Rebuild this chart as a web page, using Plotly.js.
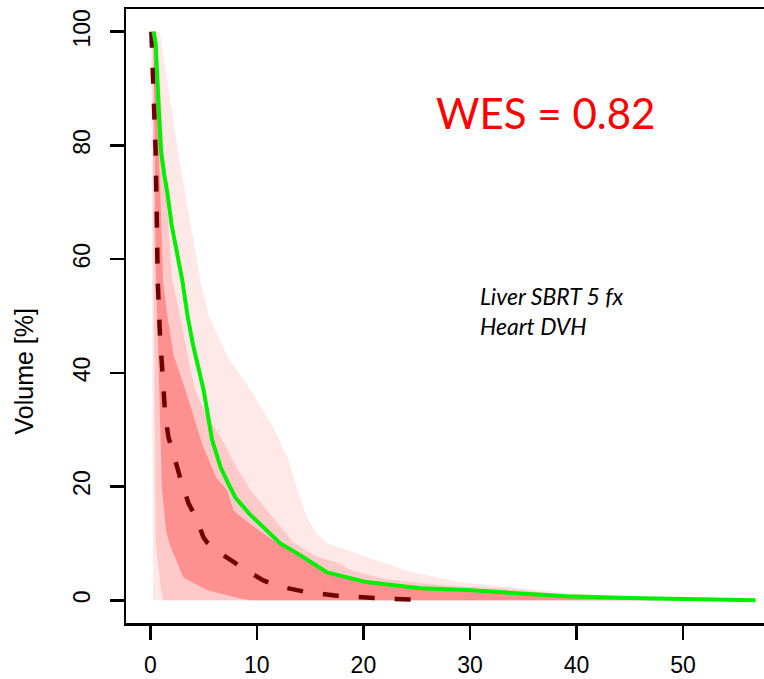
<!DOCTYPE html>
<html>
<head>
<meta charset="utf-8">
<script src="https://cdn.plot.ly/plotly-3.0.1.min.js"></script>
<style>
html,body{margin:0;padding:0;overflow:hidden;background:#fff;}
#chart{width:800px;height:679px;}
</style>
</head>
<body>
<div id="chart"></div>
<script>
// Outer band (lightest)
const outerUpperDose = [0.1,0.9,1.7,2.6,3.6,4.7,5.5,7.2,9.4,11.5,12.9,13.8,14.7,15.6,16.6,20.5,24.4,29,32.8,36,39,42,45,50,55];
const outerUpperVol  = [100,100,90,79,68,56.3,50,43,37,30.5,25,19.4,14.6,11.8,10,7.5,5,3.2,2.5,1.8,1.3,0.9,0.5,0.15,0];
const outerLowerDose = [0.1,0.2,0.25];
const outerLowerVol  = [100,50,0];

// Middle band
const midUpperDose = [0.1,0.6,1.0,1.3,1.7,2.0,2.8,3.4,4.2,5.2,6.8,8.2,9.4,11.5,13.4,15.5,17.8,18.8,21.9,24.4,28,32.8,36,40,45,50];
const midUpperVol  = [100,100,88,79,65,57,50,44,37,33,28,23,19.4,14.5,10.2,7.8,6.4,5.3,3.8,3.2,2.5,2.1,1.5,0.8,0.3,0];
const midLowerDose = [0.2,0.3,0.4,0.5,1.0,1.2];
const midLowerVol  = [100,60,30,10,2,0];

// Inner band (darkest)
const innerUpperDose = [0.2,0.5,0.7,0.8,1.0,1.2,1.6,2.2,3.3,4.9,6.2,7.2,7.8,9.5,11.5,14.1,16.6,20.3,25.3,32.8,39,45,50];
const innerUpperVol  = [100,100,88,79,68,56,50,43,37,27.3,21.5,19.4,15.8,13.2,10.6,7.6,4.6,3.0,1.9,1.2,0.5,0.2,0];
const innerLowerDose = [0.3,0.5,0.8,1.1,1.5,1.9,3.1,5.3,8.4,9.4];
const innerLowerVol  = [100,60,40,19.4,12,9.4,4,1.8,0.3,0];

// Median DVH (dashed)
const medianDose = [0.1,0.3,0.5,0.6,0.7,0.9,1.2,1.4,1.7,2.1,2.6,3.0,3.6,4.3,5.0,5.4,6.4,7.6,8.8,10.6,11.9,14.5,17.5,21,25.8];
const medianVol  = [100,90,79,68,56,47,37,32.6,28.7,26.4,22.9,20.2,17,14.5,11,10,8.5,7,5.5,3.5,2.5,1.5,0.8,0.4,0];

// Patient DVH (green)
const patientDose = [0.3,0.5,0.7,1.0,1.3,1.6,2.0,2.5,3.0,3.5,4.0,4.5,5.0,5.8,6.6,7.3,8.0,9.4,12.2,14.1,16.6,20.3,25.3,29.7,32.8,39,45,50,56.8];
const patientVol  = [100,98,90,79,75,71.7,66,61,56.3,50,45,41,37,28.2,23.4,20.6,18,15,10,7.9,4.9,3.2,2.1,1.8,1.4,0.7,0.4,0.2,0];

const xTicks = [0,10,20,30,40,50];
const yTicks = [0,20,40,60,80,100];
const yTitle = "Volume [%]";
const wesText = "WES = 0.82";
const noteLines = ["Liver SBRT 5 fx","Heart DVH"];

function band(ux, uy, lx, ly, color){
  return {
    x: ux.concat(lx.slice().reverse()),
    y: uy.concat(ly.slice().reverse()),
    type:'scatter', mode:'lines', fill:'toself', fillcolor:color,
    line:{width:0, color:color}, hoverinfo:'skip', showlegend:false
  };
}

const traces = [
  band(outerUpperDose, outerUpperVol, outerLowerDose, outerLowerVol, '#ffe8e8'),
  band(midUpperDose, midUpperVol, midLowerDose, midLowerVol, '#ffc9c9'),
  band(innerUpperDose, innerUpperVol, innerLowerDose, innerLowerVol, '#ff9090'),
  {x: medianDose, y: medianVol, type:'scatter', mode:'lines',
   line:{color:'#6e0000', width:4.5, dash:'16px,20px'}, showlegend:false},
  {x: patientDose, y: patientVol, type:'scatter', mode:'lines',
   line:{color:'#00ee00', width:4}, showlegend:false}
];

const axisFont = {family:'Liberation Sans, Arial, sans-serif', size:23, color:'#000'};
const axisCommon = {
  showgrid:false, zeroline:false, showline:true, linecolor:'#000', linewidth:2.5,
  mirror:true, ticks:'outside', ticklen:14, tickwidth:2.5, tickcolor:'#000',
  tickfont:axisFont
};

const layout = {
  width:800, height:679,
  margin:{l:126, r:18, t:9.3, b:56.3},
  paper_bgcolor:'#fff', plot_bgcolor:'#fff',
  xaxis: Object.assign({}, axisCommon, {
    range:[-2.28, 59.28], tickvals:xTicks, ticktext:xTicks.map(String), ticklabelstandoff:6
  }),
  yaxis: Object.assign({}, axisCommon, {
    range:[-4, 104], tickvals:yTicks, ticktext:yTicks.map(String), tickangle:-90, ticklabelstandoff:10
  }),
  annotations:[
    {x:-0.155, y:40.3, xref:'paper', yref:'y', text:yTitle, textangle:-90, showarrow:false,
     font:{family:'Liberation Sans, Arial, sans-serif', size:25, color:'#000'}, xanchor:'center', yanchor:'middle'},
    {x:37.05, y:85.7, xref:'x', yref:'y', text:wesText, showarrow:false,
     font:{family:'Lato, sans-serif', size:42, color:'#ff0000'}, xanchor:'center', yanchor:'middle'},
    {x:30.75, y:53.5, xref:'x', yref:'y', text:'<i>'+noteLines[0]+'</i>', showarrow:false,
     font:{family:'Lato, sans-serif', size:23, color:'#000'}, xanchor:'left', yanchor:'middle'},
    {x:30.75, y:48.2, xref:'x', yref:'y', text:'<i>'+noteLines[1]+'</i>', showarrow:false,
     font:{family:'Lato, sans-serif', size:23, color:'#000'}, xanchor:'left', yanchor:'middle'}
  ]
};

Plotly.newPlot('chart', traces, layout, {displayModeBar:false, staticPlot:true});
</script>
</body>
</html>
